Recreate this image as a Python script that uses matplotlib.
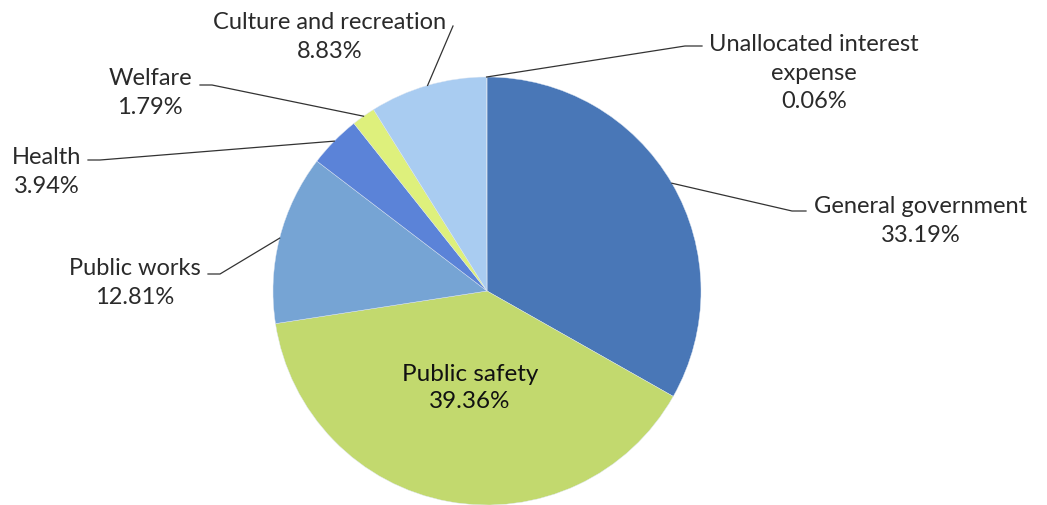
import matplotlib.pyplot as plt
import numpy as np

# expense shares, clockwise from 12 o'clock
categories = ["General government", "Public safety", "Public works", "Health",
              "Welfare", "Culture and recreation", "Unallocated interest\nexpense"]
shares = [33.19, 39.36, 12.81, 3.94, 1.79, 8.83, 0.06]
colors = ["#4977b7", "#c2d96e", "#76a4d4", "#5b83d8", "#def07c", "#a9ccf1", "#a9ccf1"]

W, H = 1047, 506
plt.rcParams['font.family'] = ['Lato', 'DejaVu Sans']

fig = plt.figure(figsize=(W / 100, H / 100), dpi=100)
ax = fig.add_axes([0, 0, 1, 1])

cx, cy, r = 487, H - 292, 214
wedges, _ = ax.pie(shares, colors=colors, startangle=90, counterclock=False,
                   center=(cx, cy), radius=r, frame=True,
                   wedgeprops=dict(linewidth=0.3, edgecolor="#dde6f2"))
ax.set_xlim(0, W)
ax.set_ylim(0, H)
ax.set_aspect("equal")
ax.axis("off")

# label centre (x, y from top) and leader line: elbow point, end point
layout = {
    "General government": ((921, 221), (792, 212), (806, 212)),
    "Public works": ((135, 283), (220, 275), (208, 275)),
    "Health": ((47, 172), (100, 161), (88, 161)),
    "Welfare": ((150, 93), (212, 86), (200, 86)),
    "Culture and recreation": ((330, 37), None, (453, 27)),
    "Unallocated interest\nexpense": ((814, 73), (685, 47), (702, 47)),
}

for w, name, val in zip(wedges, categories, shares):
    text = f"{name}\n{val:.2f}%"
    if name == "Public safety":
        ax.text(470, H - 388, text, ha="center", va="center", fontsize=17.5,
                color="#111111", linespacing=1.4)
        continue
    (tx, ty), elbow, end = layout[name]
    ax.text(tx, H - ty, text, ha="center", va="center", fontsize=17,
            color="#2a2a2a", linespacing=1.45)
    ang = np.deg2rad((w.theta1 + w.theta2) / 2)
    px = [cx + r * np.cos(ang)]
    py = [cy + r * np.sin(ang)]
    for p in (elbow, end):
        if p is not None:
            px.append(p[0])
            py.append(H - p[1])
    ax.plot(px, py, color="#333333", lw=0.9)

fig.savefig("out.png", dpi=100)
